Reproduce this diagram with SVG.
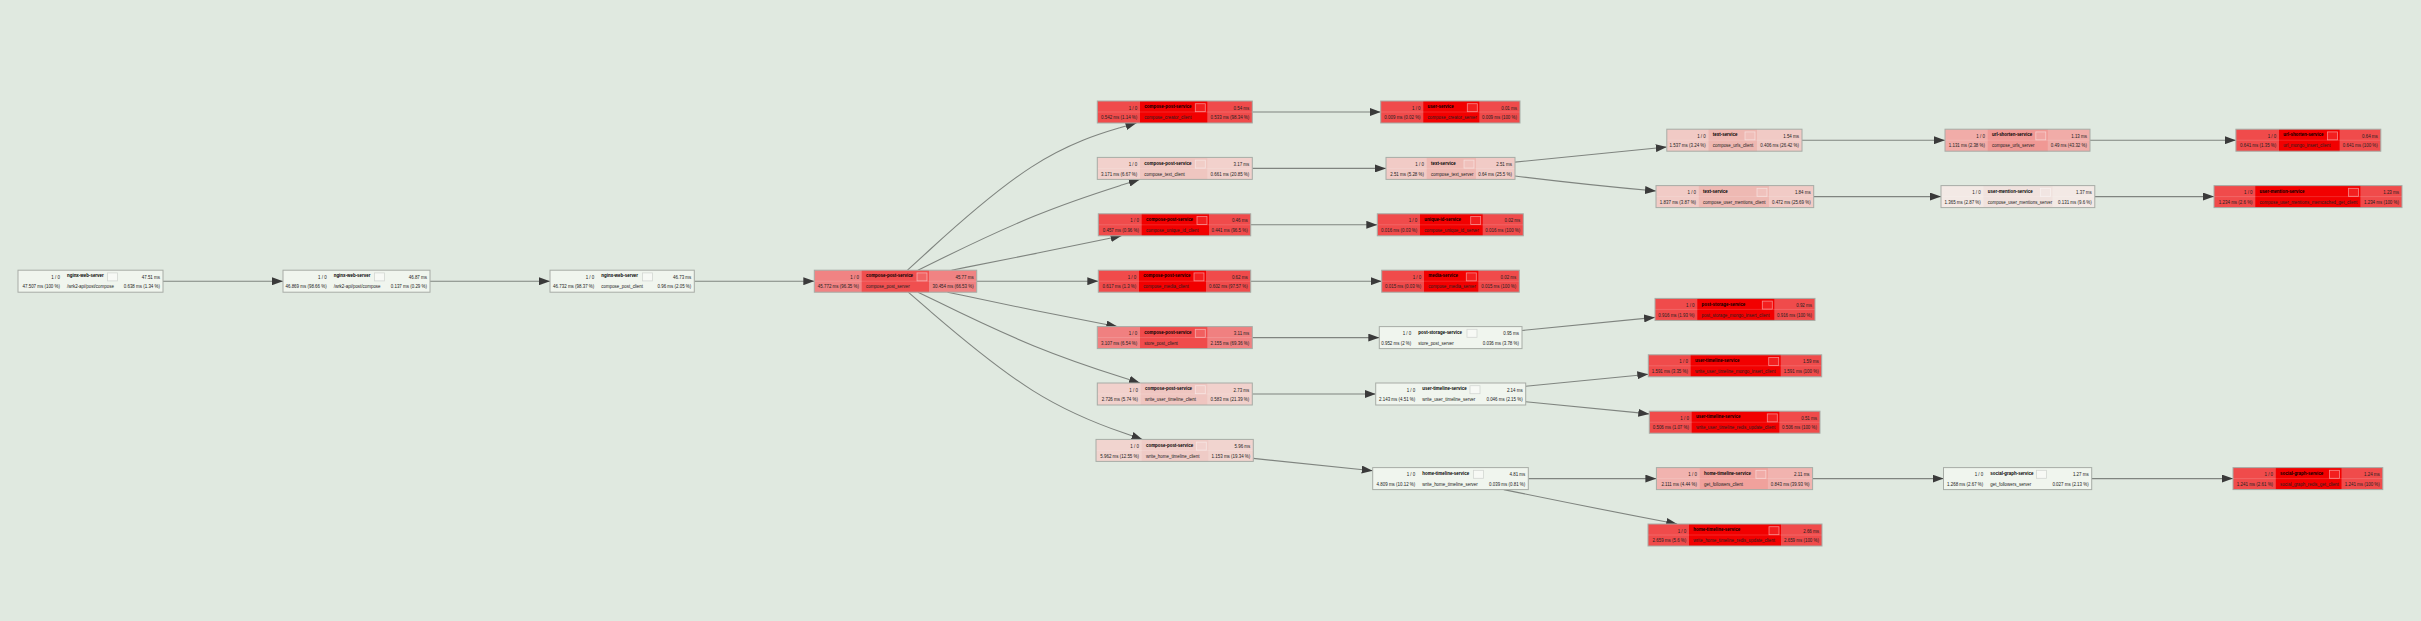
<svg xmlns="http://www.w3.org/2000/svg" width="2421" height="621" viewBox="0 0 2421 621">
<defs>
<marker id="ah" viewBox="0 0 11 8" refX="11" refY="4" markerWidth="11" markerHeight="8" markerUnits="userSpaceOnUse" orient="auto"><path d="M0,0L11,4L0,8z" fill="#3a3a3a"/></marker>
</defs>
<style>
.e{fill:none;stroke:#7f847f;stroke-width:1.1;marker-end:url(#ah)}
.nd text{font-family:"Liberation Sans",Arial,Helvetica,sans-serif;font-size:4.45px;fill:#222}
.nd text.r{text-anchor:end}
.nd text.s{font-weight:bold;fill:#000}
.bd{fill:none;stroke:#a7aca6;stroke-width:1}
.dv{stroke:#ffffff;stroke-opacity:.3;stroke-width:.5}
.ic{fill:#ffffff;fill-opacity:.12;stroke:#ffffff;stroke-opacity:.5;stroke-width:.8}
.k0 .o,.k0 .m{fill:#f0f5ee}
.k0 .ic{fill:#f7f9f5;fill-opacity:1;stroke:#d3d6d2;stroke-opacity:1}
.k0 .dv{stroke-opacity:0}
.k10 .o{fill:#f3e9e5}.k10 .m{fill:#f0e2de}
.k19 .o{fill:#f1d4cf}.k19 .m{fill:#efcbc6}
.k20 .o{fill:#f2d1cc}.k20 .m{fill:#efc6c0}
.k21 .o{fill:#f1d1cc}.k21 .m{fill:#efc5c0}
.k25 .o{fill:#f1cbc6}.k25 .m{fill:#eeb9b3}
.k26 .o{fill:#f1cac5}.k26 .m{fill:#eeb7b1}
.k40 .o{fill:#f1b3af}.k40 .m{fill:#f0a19c}
.k43 .o{fill:#f1aca8}.k43 .m{fill:#f09894}
.k66 .o{fill:#f08383}.k66 .m{fill:#f04f4f}
.k69 .o{fill:#f08080}.k69 .m{fill:#f04b4b}
.k100 .o{fill:#f04b4b}.k100 .m{fill:#f20000}
</style>
<rect width="2421" height="621" fill="#e0e9e0"/>
<g id="edges">
<path class="e" d="M163,281.2L283,281.2"/>
<path class="e" d="M430,281.2L550,281.2"/>
<path class="e" d="M694.3,281.2L814.3,281.2"/>
<path class="e" d="M907.5,270.2L929,250.5C950.5,230.8 993.5,191.4 1031.7,166.9C1069.8,142.3 1103.2,132.7 1119.8,127.8L1136.5,123"/>
<path class="e" d="M917.9,270.2L937.7,260.5C957.4,250.8 997,231.4 1033.9,216.3C1070.9,201.1 1105.3,190.3 1122.5,184.8L1139.7,179.4"/>
<path class="e" d="M951.5,270.2L965.7,267.4C979.8,264.6 1008.2,259.1 1036.5,253.3C1064.9,247.6 1093.2,241.7 1107.4,238.8L1121.6,235.8"/>
<path class="e" d="M976.7,281.2L1098.3,281.2"/>
<path class="e" d="M947.5,292.2L962.3,295.3C977.2,298.5 1006.8,304.7 1035.1,310.5C1063.4,316.2 1090.4,321.4 1103.8,324L1117.3,326.6"/>
<path class="e" d="M918,292.2L937.8,301.8C957.5,311.5 997,330.7 1034,345.9C1071,361 1105.5,372 1122.8,377.5L1140,383"/>
<path class="e" d="M908.2,292.2L929.6,310.7C951,329.1 993.7,366.1 1032.8,390.6C1071.8,415.1 1107.2,427.3 1124.8,433.3L1142.5,439.4"/>
<path class="e" d="M1252.3,112L1380.7,112"/>
<path class="e" d="M1252.3,168.4L1386,168.4"/>
<path class="e" d="M1250.7,224.8L1377.3,224.8"/>
<path class="e" d="M1250.7,281.2L1381.7,281.2"/>
<path class="e" d="M1252.3,337.6L1379.3,337.6"/>
<path class="e" d="M1252.3,394L1375.7,394"/>
<path class="e" d="M1253.3,458.4L1372.7,470.7"/>
<path class="e" d="M1515,162.1Q1588,155 1666.8,147"/>
<path class="e" d="M1515,176Q1588,185 1656,191"/>
<path class="e" d="M1522,330.5Q1588,324 1655,317.4"/>
<path class="e" d="M1525.7,386.3Q1588,380 1648.3,374.2"/>
<path class="e" d="M1525.7,401.7Q1588,408 1649.3,413.9"/>
<path class="e" d="M1528.3,478.6L1656.4,478.6"/>
<path class="e" d="M1503.8,489.6Q1588,507 1677.2,524"/>
<path class="e" d="M1802,140.2L1945,140.2"/>
<path class="e" d="M2090,140.2L2235.9,140.2"/>
<path class="e" d="M1813.7,196.6L1941,196.6"/>
<path class="e" d="M2094.8,196.6L2214,196.6"/>
<path class="e" d="M1812.6,478.6L1943.5,478.6"/>
<path class="e" d="M2091.7,478.6L2233,478.6"/>
</g>

<g id="n1" class="nd k0" transform="translate(18,270.2)"><rect class="o" width="145" height="22"/><rect class="m" x="44.7" width="56.8" height="22"/><line class="dv" x1="0" y1="11" x2="145" y2="11"/><rect class="bd" width="145" height="22"/><rect class="ic" x="89.5" y="2.7" width="10" height="8"/><text class="r" x="42" y="8.5">1 / 0</text><text class="s" x="49" y="7.2">nginx-web-server</text><text class="r" x="142" y="8.5">47.51 ms</text><text class="r" x="42" y="18.3">47.507 ms (100 %)</text><text x="49" y="18.3">/wrk2-api/post/compose</text><text class="r" x="142" y="18.3">0.638 ms (1.34 %)</text></g>

<g id="n2" class="nd k0" transform="translate(283,270.2)"><rect class="o" width="147" height="22"/><rect class="m" x="46.4" width="57.1" height="22"/><line class="dv" x1="0" y1="11" x2="147" y2="11"/><rect class="bd" width="147" height="22"/><rect class="ic" x="91.5" y="2.7" width="10" height="8"/><text class="r" x="43.7" y="8.5">1 / 0</text><text class="s" x="50.7" y="7.2">nginx-web-server</text><text class="r" x="144" y="8.5">46.87 ms</text><text class="r" x="43.7" y="18.3">46.869 ms (98.66 %)</text><text x="50.7" y="18.3">/wrk2-api/post/compose</text><text class="r" x="144" y="18.3">0.137 ms (0.29 %)</text></g>

<g id="n3" class="nd k0" transform="translate(550,270.2)"><rect class="o" width="144.3" height="22"/><rect class="m" x="47" width="57.5" height="22"/><line class="dv" x1="0" y1="11" x2="144.3" y2="11"/><rect class="bd" width="144.3" height="22"/><rect class="ic" x="92.5" y="2.7" width="10" height="8"/><text class="r" x="44.3" y="8.5">1 / 0</text><text class="s" x="51.3" y="7.2">nginx-web-server</text><text class="r" x="141.3" y="8.5">46.73 ms</text><text class="r" x="44.3" y="18.3">46.732 ms (98.37 %)</text><text x="51.3" y="18.3">compose_post_client</text><text class="r" x="141.3" y="18.3">0.96 ms (2.05 %)</text></g>

<g id="n4" class="nd k66" transform="translate(814.3,270.2)"><rect class="o" width="162.4" height="22"/><rect class="m" x="47.4" width="67.3" height="22"/><line class="dv" x1="0" y1="11" x2="162.4" y2="11"/><rect class="bd" width="162.4" height="22"/><rect class="ic" x="102.7" y="2.7" width="10" height="8"/><text class="r" x="44.7" y="8.5">1 / 0</text><text class="s" x="51.7" y="7.2">compose-post-service</text><text class="r" x="159.4" y="8.5">45.77 ms</text><text class="r" x="44.7" y="18.3">45.772 ms (96.35 %)</text><text x="51.7" y="18.3">compose_post_server</text><text class="r" x="159.4" y="18.3">30.454 ms (66.53 %)</text></g>

<g id="c2a" class="nd k100" transform="translate(1097.3,101)"><rect class="o" width="155" height="22"/><rect class="m" x="42.7" width="67.3" height="22"/><line class="dv" x1="0" y1="11" x2="155" y2="11"/><rect class="bd" width="155" height="22"/><rect class="ic" x="98" y="2.7" width="10" height="8"/><text class="r" x="40" y="8.5">1 / 0</text><text class="s" x="47" y="7.2">compose-post-service</text><text class="r" x="152" y="8.5">0.54 ms</text><text class="r" x="40" y="18.3">0.542 ms (1.14 %)</text><text x="47" y="18.3">compose_creator_client</text><text class="r" x="152" y="18.3">0.533 ms (98.34 %)</text></g>

<g id="c2b" class="nd k20" transform="translate(1097.3,157.4)"><rect class="o" width="155" height="22"/><rect class="m" x="42.7" width="67.3" height="22"/><line class="dv" x1="0" y1="11" x2="155" y2="11"/><rect class="bd" width="155" height="22"/><rect class="ic" x="98" y="2.7" width="10" height="8"/><text class="r" x="40" y="8.5">1 / 0</text><text class="s" x="47" y="7.2">compose-post-service</text><text class="r" x="152" y="8.5">3.17 ms</text><text class="r" x="40" y="18.3">3.171 ms (6.67 %)</text><text x="47" y="18.3">compose_text_client</text><text class="r" x="152" y="18.3">0.661 ms (20.85 %)</text></g>

<g id="c2c" class="nd k100" transform="translate(1098.3,213.8)"><rect class="o" width="152.4" height="22"/><rect class="m" x="43.4" width="67.3" height="22"/><line class="dv" x1="0" y1="11" x2="152.4" y2="11"/><rect class="bd" width="152.4" height="22"/><rect class="ic" x="98.7" y="2.7" width="10" height="8"/><text class="r" x="40.7" y="8.5">1 / 0</text><text class="s" x="47.7" y="7.2">compose-post-service</text><text class="r" x="149.4" y="8.5">0.46 ms</text><text class="r" x="40.7" y="18.3">0.457 ms (0.96 %)</text><text x="47.7" y="18.3">compose_unique_id_client</text><text class="r" x="149.4" y="18.3">0.441 ms (96.5 %)</text></g>

<g id="c2d" class="nd k100" transform="translate(1098.3,270.2)"><rect class="o" width="152.4" height="22"/><rect class="m" x="40.7" width="67" height="22"/><line class="dv" x1="0" y1="11" x2="152.4" y2="11"/><rect class="bd" width="152.4" height="22"/><rect class="ic" x="95.7" y="2.7" width="10" height="8"/><text class="r" x="38" y="8.5">1 / 0</text><text class="s" x="45" y="7.2">compose-post-service</text><text class="r" x="149.4" y="8.5">0.62 ms</text><text class="r" x="38" y="18.3">0.617 ms (1.3 %)</text><text x="45" y="18.3">compose_media_client</text><text class="r" x="149.4" y="18.3">0.602 ms (97.57 %)</text></g>

<g id="c2e" class="nd k69" transform="translate(1097.3,326.6)"><rect class="o" width="155" height="22"/><rect class="m" x="42.7" width="67.3" height="22"/><line class="dv" x1="0" y1="11" x2="155" y2="11"/><rect class="bd" width="155" height="22"/><rect class="ic" x="98" y="2.7" width="10" height="8"/><text class="r" x="40" y="8.5">1 / 0</text><text class="s" x="47" y="7.2">compose-post-service</text><text class="r" x="152" y="8.5">3.11 ms</text><text class="r" x="40" y="18.3">3.107 ms (6.54 %)</text><text x="47" y="18.3">store_post_client</text><text class="r" x="152" y="18.3">2.155 ms (69.36 %)</text></g>

<g id="c2f" class="nd k21" transform="translate(1097.3,383)"><rect class="o" width="155" height="22"/><rect class="m" x="43.4" width="66.6" height="22"/><line class="dv" x1="0" y1="11" x2="155" y2="11"/><rect class="bd" width="155" height="22"/><rect class="ic" x="98" y="2.7" width="10" height="8"/><text class="r" x="40.7" y="8.5">1 / 0</text><text class="s" x="47.7" y="7.2">compose-post-service</text><text class="r" x="152" y="8.5">2.73 ms</text><text class="r" x="40.7" y="18.3">2.726 ms (5.74 %)</text><text x="47.7" y="18.3">write_user_timeline_client</text><text class="r" x="152" y="18.3">0.583 ms (21.39 %)</text></g>

<g id="c2g" class="nd k19" transform="translate(1096,439.4)"><rect class="o" width="157.3" height="22"/><rect class="m" x="45.7" width="66.6" height="22"/><line class="dv" x1="0" y1="11" x2="157.3" y2="11"/><rect class="bd" width="157.3" height="22"/><rect class="ic" x="100.3" y="2.7" width="10" height="8"/><text class="r" x="43" y="8.5">1 / 0</text><text class="s" x="50" y="7.2">compose-post-service</text><text class="r" x="154.3" y="8.5">5.96 ms</text><text class="r" x="43" y="18.3">5.962 ms (12.55 %)</text><text x="50" y="18.3">write_home_timeline_client</text><text class="r" x="154.3" y="18.3">1.153 ms (19.34 %)</text></g>

<g id="c3a" class="nd k100" transform="translate(1380.7,101)"><rect class="o" width="139.3" height="22"/><rect class="m" x="42.6" width="56" height="22"/><line class="dv" x1="0" y1="11" x2="139.3" y2="11"/><rect class="bd" width="139.3" height="22"/><rect class="ic" x="86.6" y="2.7" width="10" height="8"/><text class="r" x="39.9" y="8.5">1 / 0</text><text class="s" x="46.9" y="7.2">user-service</text><text class="r" x="136.3" y="8.5">0.01 ms</text><text class="r" x="39.9" y="18.3">0.009 ms (0.02 %)</text><text x="46.9" y="18.3">compose_creator_server</text><text class="r" x="136.3" y="18.3">0.009 ms (100 %)</text></g>

<g id="c3b" class="nd k25" transform="translate(1386,157.4)"><rect class="o" width="129" height="22"/><rect class="m" x="40.7" width="49.3" height="22"/><line class="dv" x1="0" y1="11" x2="129" y2="11"/><rect class="bd" width="129" height="22"/><rect class="ic" x="78" y="2.7" width="10" height="8"/><text class="r" x="38" y="8.5">1 / 0</text><text class="s" x="45" y="7.2">text-service</text><text class="r" x="126" y="8.5">2.51 ms</text><text class="r" x="38" y="18.3">2.51 ms (5.28 %)</text><text x="45" y="18.3">compose_text_server</text><text class="r" x="126" y="18.3">0.64 ms (25.5 %)</text></g>

<g id="c3c" class="nd k100" transform="translate(1377.3,213.8)"><rect class="o" width="146" height="22"/><rect class="m" x="42.7" width="62.7" height="22"/><line class="dv" x1="0" y1="11" x2="146" y2="11"/><rect class="bd" width="146" height="22"/><rect class="ic" x="93.4" y="2.7" width="10" height="8"/><text class="r" x="40" y="8.5">1 / 0</text><text class="s" x="47" y="7.2">unique-id-service</text><text class="r" x="143" y="8.5">0.02 ms</text><text class="r" x="40" y="18.3">0.016 ms (0.03 %)</text><text x="47" y="18.3">compose_unique_id_server</text><text class="r" x="143" y="18.3">0.016 ms (100 %)</text></g>

<g id="c3d" class="nd k100" transform="translate(1381.7,270.2)"><rect class="o" width="137.6" height="22"/><rect class="m" x="42.3" width="54.3" height="22"/><line class="dv" x1="0" y1="11" x2="137.6" y2="11"/><rect class="bd" width="137.6" height="22"/><rect class="ic" x="84.6" y="2.7" width="10" height="8"/><text class="r" x="39.6" y="8.5">1 / 0</text><text class="s" x="46.6" y="7.2">media-service</text><text class="r" x="134.6" y="8.5">0.02 ms</text><text class="r" x="39.6" y="18.3">0.015 ms (0.03 %)</text><text x="46.6" y="18.3">compose_media_server</text><text class="r" x="134.6" y="18.3">0.015 ms (100 %)</text></g>

<g id="c3e" class="nd k0" transform="translate(1379.3,326.6)"><rect class="o" width="142.7" height="22"/><rect class="m" x="34.7" width="65" height="22"/><line class="dv" x1="0" y1="11" x2="142.7" y2="11"/><rect class="bd" width="142.7" height="22"/><rect class="ic" x="87.7" y="2.7" width="10" height="8"/><text class="r" x="32" y="8.5">1 / 0</text><text class="s" x="39" y="7.2">post-storage-service</text><text class="r" x="139.7" y="8.5">0.95 ms</text><text class="r" x="32" y="18.3">0.952 ms (2 %)</text><text x="39" y="18.3">store_post_server</text><text class="r" x="139.7" y="18.3">0.036 ms (3.78 %)</text></g>

<g id="c3f" class="nd k0" transform="translate(1375.7,383)"><rect class="o" width="150" height="22"/><rect class="m" x="42.3" width="64" height="22"/><line class="dv" x1="0" y1="11" x2="150" y2="11"/><rect class="bd" width="150" height="22"/><rect class="ic" x="94.3" y="2.7" width="10" height="8"/><text class="r" x="39.6" y="8.5">1 / 0</text><text class="s" x="46.6" y="7.2">user-timeline-service</text><text class="r" x="147" y="8.5">2.14 ms</text><text class="r" x="39.6" y="18.3">2.143 ms (4.51 %)</text><text x="46.6" y="18.3">write_user_timeline_server</text><text class="r" x="147" y="18.3">0.046 ms (2.15 %)</text></g>

<g id="c3g" class="nd k0" transform="translate(1372.7,467.6)"><rect class="o" width="155.6" height="22"/><rect class="m" x="45.3" width="67.5" height="22"/><line class="dv" x1="0" y1="11" x2="155.6" y2="11"/><rect class="bd" width="155.6" height="22"/><rect class="ic" x="100.8" y="2.7" width="10" height="8"/><text class="r" x="42.6" y="8.5">1 / 0</text><text class="s" x="49.6" y="7.2">home-timeline-service</text><text class="r" x="152.6" y="8.5">4.81 ms</text><text class="r" x="42.6" y="18.3">4.809 ms (10.12 %)</text><text x="49.6" y="18.3">write_home_timeline_server</text><text class="r" x="152.6" y="18.3">0.039 ms (0.81 %)</text></g>

<g id="c4a" class="nd k26" transform="translate(1666.8,129.2)"><rect class="o" width="135.2" height="22"/><rect class="m" x="41.7" width="48.5" height="22"/><line class="dv" x1="0" y1="11" x2="135.2" y2="11"/><rect class="bd" width="135.2" height="22"/><rect class="ic" x="78.2" y="2.7" width="10" height="8"/><text class="r" x="39" y="8.5">1 / 0</text><text class="s" x="46" y="7.2">text-service</text><text class="r" x="132.2" y="8.5">1.54 ms</text><text class="r" x="39" y="18.3">1.537 ms (3.24 %)</text><text x="46" y="18.3">compose_urls_client</text><text class="r" x="132.2" y="18.3">0.406 ms (26.42 %)</text></g>

<g id="c4b" class="nd k25" transform="translate(1656,185.6)"><rect class="o" width="157.7" height="22"/><rect class="m" x="42.8" width="70.2" height="22"/><line class="dv" x1="0" y1="11" x2="157.7" y2="11"/><rect class="bd" width="157.7" height="22"/><rect class="ic" x="101" y="2.7" width="10" height="8"/><text class="r" x="40.1" y="8.5">1 / 0</text><text class="s" x="47.1" y="7.2">text-service</text><text class="r" x="154.7" y="8.5">1.84 ms</text><text class="r" x="40.1" y="18.3">1.837 ms (3.87 %)</text><text x="47.1" y="18.3">compose_user_mentions_client</text><text class="r" x="154.7" y="18.3">0.472 ms (25.69 %)</text></g>

<g id="c4c" class="nd k100" transform="translate(1655,298.4)"><rect class="o" width="160" height="22"/><rect class="m" x="42.3" width="77" height="22"/><line class="dv" x1="0" y1="11" x2="160" y2="11"/><rect class="bd" width="160" height="22"/><rect class="ic" x="107.3" y="2.7" width="10" height="8"/><text class="r" x="39.6" y="8.5">1 / 0</text><text class="s" x="46.6" y="7.2">post-storage-service</text><text class="r" x="157" y="8.5">0.92 ms</text><text class="r" x="39.6" y="18.3">0.916 ms (1.93 %)</text><text x="46.6" y="18.3">post_storage_mongo_insert_client</text><text class="r" x="157" y="18.3">0.916 ms (100 %)</text></g>

<g id="c4d" class="nd k100" transform="translate(1648.3,354.8)"><rect class="o" width="173.4" height="22"/><rect class="m" x="42.4" width="90" height="22"/><line class="dv" x1="0" y1="11" x2="173.4" y2="11"/><rect class="bd" width="173.4" height="22"/><rect class="ic" x="120.4" y="2.7" width="10" height="8"/><text class="r" x="39.7" y="8.5">1 / 0</text><text class="s" x="46.7" y="7.2">user-timeline-service</text><text class="r" x="170.4" y="8.5">1.59 ms</text><text class="r" x="39.7" y="18.3">1.591 ms (3.35 %)</text><text x="46.7" y="18.3">write_user_timeline_mongo_insert_client</text><text class="r" x="170.4" y="18.3">1.591 ms (100 %)</text></g>

<g id="c4e" class="nd k100" transform="translate(1649.3,411.2)"><rect class="o" width="170.7" height="22"/><rect class="m" x="42.4" width="87.6" height="22"/><line class="dv" x1="0" y1="11" x2="170.7" y2="11"/><rect class="bd" width="170.7" height="22"/><rect class="ic" x="118" y="2.7" width="10" height="8"/><text class="r" x="39.7" y="8.5">1 / 0</text><text class="s" x="46.7" y="7.2">user-timeline-service</text><text class="r" x="167.7" y="8.5">0.51 ms</text><text class="r" x="39.7" y="18.3">0.506 ms (1.07 %)</text><text x="46.7" y="18.3">write_user_timeline_redis_update_client</text><text class="r" x="167.7" y="18.3">0.506 ms (100 %)</text></g>

<g id="c4f" class="nd k40" transform="translate(1656.4,467.6)"><rect class="o" width="156.2" height="22"/><rect class="m" x="43.3" width="68.2" height="22"/><line class="dv" x1="0" y1="11" x2="156.2" y2="11"/><rect class="bd" width="156.2" height="22"/><rect class="ic" x="99.5" y="2.7" width="10" height="8"/><text class="r" x="40.6" y="8.5">1 / 0</text><text class="s" x="47.6" y="7.2">home-timeline-service</text><text class="r" x="153.2" y="8.5">2.11 ms</text><text class="r" x="40.6" y="18.3">2.111 ms (4.44 %)</text><text x="47.6" y="18.3">get_followers_client</text><text class="r" x="153.2" y="18.3">0.843 ms (39.93 %)</text></g>

<g id="c4g" class="nd k100" transform="translate(1648,524)"><rect class="o" width="174" height="22"/><rect class="m" x="41" width="92" height="22"/><line class="dv" x1="0" y1="11" x2="174" y2="11"/><rect class="bd" width="174" height="22"/><rect class="ic" x="121" y="2.7" width="10" height="8"/><text class="r" x="38.3" y="8.5">1 / 0</text><text class="s" x="45.3" y="7.2">home-timeline-service</text><text class="r" x="171" y="8.5">2.66 ms</text><text class="r" x="38.3" y="18.3">2.659 ms (5.6 %)</text><text x="45.3" y="18.3">write_home_timeline_redis_update_client</text><text class="r" x="171" y="18.3">2.659 ms (100 %)</text></g>

<g id="c5a" class="nd k43" transform="translate(1945,129.2)"><rect class="o" width="145" height="22"/><rect class="m" x="42.7" width="60.1" height="22"/><line class="dv" x1="0" y1="11" x2="145" y2="11"/><rect class="bd" width="145" height="22"/><rect class="ic" x="90.8" y="2.7" width="10" height="8"/><text class="r" x="40" y="8.5">1 / 0</text><text class="s" x="47" y="7.2">url-shorten-service</text><text class="r" x="142" y="8.5">1.13 ms</text><text class="r" x="40" y="18.3">1.131 ms (2.38 %)</text><text x="47" y="18.3">compose_urls_server</text><text class="r" x="142" y="18.3">0.49 ms (43.32 %)</text></g>

<g id="c5b" class="nd k10" transform="translate(1941,185.6)"><rect class="o" width="153.8" height="22"/><rect class="m" x="42.5" width="69" height="22"/><line class="dv" x1="0" y1="11" x2="153.8" y2="11"/><rect class="bd" width="153.8" height="22"/><rect class="ic" x="99.5" y="2.7" width="10" height="8"/><text class="r" x="39.8" y="8.5">1 / 0</text><text class="s" x="46.8" y="7.2">user-mention-service</text><text class="r" x="150.8" y="8.5">1.37 ms</text><text class="r" x="39.8" y="18.3">1.365 ms (2.87 %)</text><text x="46.8" y="18.3">compose_user_mentions_server</text><text class="r" x="150.8" y="18.3">0.131 ms (9.6 %)</text></g>

<g id="c5c" class="nd k0" transform="translate(1943.5,467.6)"><rect class="o" width="148.2" height="22"/><rect class="m" x="42.5" width="62.5" height="22"/><line class="dv" x1="0" y1="11" x2="148.2" y2="11"/><rect class="bd" width="148.2" height="22"/><rect class="ic" x="93" y="2.7" width="10" height="8"/><text class="r" x="39.8" y="8.5">1 / 0</text><text class="s" x="46.8" y="7.2">social-graph-service</text><text class="r" x="145.2" y="8.5">1.27 ms</text><text class="r" x="39.8" y="18.3">1.268 ms (2.67 %)</text><text x="46.8" y="18.3">get_followers_server</text><text class="r" x="145.2" y="18.3">0.027 ms (2.13 %)</text></g>

<g id="c6a" class="nd k100" transform="translate(2235.9,129.2)"><rect class="o" width="144.9" height="22"/><rect class="m" x="43.1" width="60.6" height="22"/><line class="dv" x1="0" y1="11" x2="144.9" y2="11"/><rect class="bd" width="144.9" height="22"/><rect class="ic" x="91.7" y="2.7" width="10" height="8"/><text class="r" x="40.4" y="8.5">1 / 0</text><text class="s" x="47.4" y="7.2">url-shorten-service</text><text class="r" x="141.9" y="8.5">0.64 ms</text><text class="r" x="40.4" y="18.3">0.641 ms (1.35 %)</text><text x="47.4" y="18.3">url_mongo_insert_client</text><text class="r" x="141.9" y="18.3">0.641 ms (100 %)</text></g>

<g id="c6b" class="nd k100" transform="translate(2214,185.6)"><rect class="o" width="188" height="22"/><rect class="m" x="41.3" width="105.1" height="22"/><line class="dv" x1="0" y1="11" x2="188" y2="11"/><rect class="bd" width="188" height="22"/><rect class="ic" x="134.4" y="2.7" width="10" height="8"/><text class="r" x="38.6" y="8.5">1 / 0</text><text class="s" x="45.6" y="7.2">user-mention-service</text><text class="r" x="185" y="8.5">1.23 ms</text><text class="r" x="38.6" y="18.3">1.234 ms (2.6 %)</text><text x="45.6" y="18.3">compose_user_mentions_memcached_get_client</text><text class="r" x="185" y="18.3">1.234 ms (100 %)</text></g>

<g id="c6c" class="nd k100" transform="translate(2233,467.6)"><rect class="o" width="149.8" height="22"/><rect class="m" x="42.8" width="65.7" height="22"/><line class="dv" x1="0" y1="11" x2="149.8" y2="11"/><rect class="bd" width="149.8" height="22"/><rect class="ic" x="96.5" y="2.7" width="10" height="8"/><text class="r" x="40.1" y="8.5">1 / 0</text><text class="s" x="47.1" y="7.2">social-graph-service</text><text class="r" x="146.8" y="8.5">1.24 ms</text><text class="r" x="40.1" y="18.3">1.241 ms (2.61 %)</text><text x="47.1" y="18.3">social_graph_redis_get_client</text><text class="r" x="146.8" y="18.3">1.241 ms (100 %)</text></g>
</svg>
